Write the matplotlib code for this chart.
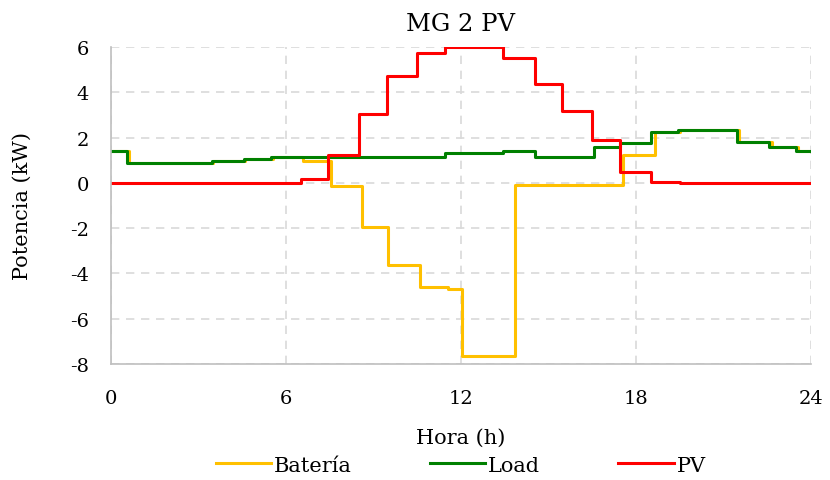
import matplotlib.pyplot as plt

plt.rcParams['font.family'] = ['DejaVu Serif']
plt.rcParams['axes.unicode_minus'] = False

# datos: horas de cambio y valor (kW) desde esa hora
t_bat = [0, 0.62, 3.5, 4.6, 5.55, 6.6, 7.55, 8.6, 9.5, 10.6, 11.55, 12.05, 13.85,
         17.55, 18.65, 19.5, 21.55, 22.65, 23.55, 24]
v_bat = [1.40, 0.87, 0.95, 1.04, 1.14, 0.96, -0.12, -1.94, -3.61, -4.62, -4.69, -7.66, -0.10,
         1.22, 2.23, 2.35, 1.82, 1.57, 1.39, 1.39]

t_load = [0, 0.55, 3.45, 4.55, 5.5, 11.45, 13.45, 14.55, 16.55, 17.45, 18.5, 19.45,
          21.45, 22.55, 23.5, 24]
v_load = [1.40, 0.87, 0.95, 1.04, 1.14, 1.30, 1.42, 1.14, 1.57, 1.75, 2.26, 2.35,
          1.82, 1.57, 1.39, 1.39]

t_pv = [0, 6.5, 7.45, 8.5, 9.45, 10.5, 11.45, 13.45, 14.55, 15.45, 16.5, 17.45, 18.5, 19.5, 24]
v_pv = [0, 0.15, 1.25, 3.05, 4.72, 5.72, 5.99, 5.52, 4.37, 3.16, 1.91, 0.49, 0.02, 0, 0]

fig = plt.figure(figsize=(8.3, 4.81), dpi=100)
ax = fig.add_axes([0.1337, 0.2412, 0.8433, 0.6590])

ax.plot(t_bat, v_bat, drawstyle='steps-post', color='#FFC000', lw=2.2, label='Batería')
ax.plot(t_load, v_load, drawstyle='steps-post', color='#008000', lw=2.2, label='Load')
ax.plot(t_pv, v_pv, drawstyle='steps-post', color='#FF0000', lw=2.2, label='PV')

ax.set_xlim(0, 24)
ax.set_ylim(-8, 6)
ax.set_xticks([0, 6, 12, 18, 24])
ax.set_yticks(range(-8, 7, 2))
ax.tick_params(length=0, labelsize=14, pad=16)
ax.tick_params(axis='x', pad=18)
ax.grid(True, color='#d9d9d9', linestyle=(0, (5, 4)), lw=1.2)
ax.set_axisbelow(True)
for s in ['top', 'right']:
    ax.spines[s].set_visible(False)
for s in ['left', 'bottom']:
    ax.spines[s].set_color('#bfbfbf')
    ax.spines[s].set_linewidth(1.2)

ax.set_title('MG 2 PV', fontsize=17.5, pad=12)
ax.set_xlabel('Hora (h)', fontsize=15, labelpad=15)
ax.set_ylabel('Potencia (kW)', fontsize=15, labelpad=27)

fig.legend(loc='lower center', bbox_to_anchor=(0.555, -0.028), ncol=3, frameon=False,
           fontsize=15, handlelength=2.65, handletextpad=0.15, columnspacing=3.75)

plt.savefig('out.png', dpi=100)
